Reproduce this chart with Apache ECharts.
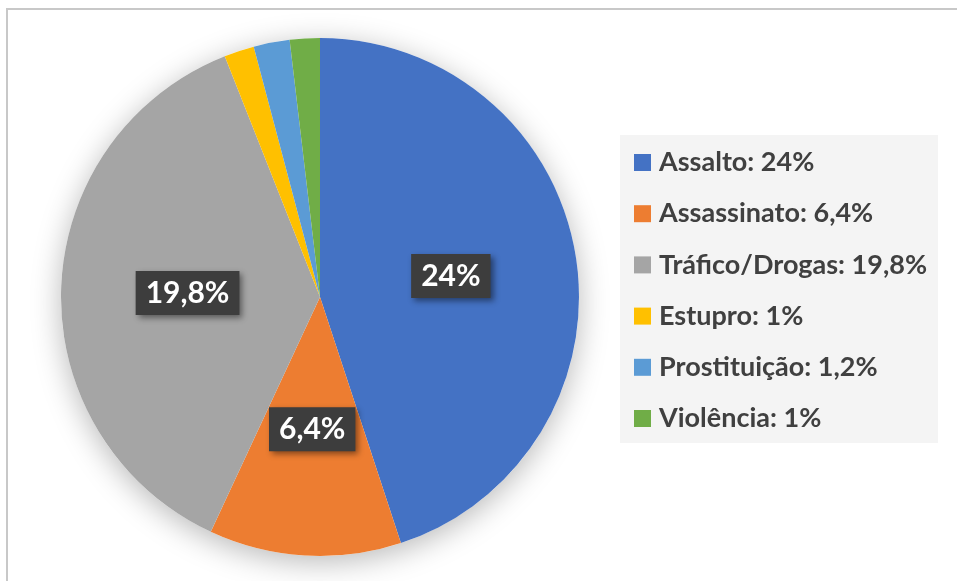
<!DOCTYPE html>
<html>
<head>
<meta charset="utf-8">
<script src="https://cdn.jsdelivr.net/npm/echarts@6/dist/echarts.min.js"></script>
<style>
    html, body { margin: 0; padding: 0; background: #fff; }
    #main { width: 957px; height: 581px; }
</style>
</head>
<body>
<div id="main"></div>
<script>
// dados do gráfico
var categories = ['Assalto', 'Assassinato', 'Tráfico/Drogas', 'Estupro', 'Prostituição', 'Violência'];
var values = [24, 6.4, 19.8, 1, 1.2, 1];
var colors = ['#4472C4', '#ED7D31', '#A5A5A5', '#FFC000', '#5B9BD5', '#70AD47'];
var showLabel = [true, true, true, false, false, false];

function fmt(v) {
    return String(v).replace('.', ',') + '%';
}

var pieData = categories.map(function (name, i) {
    return {
        name: name,
        value: values[i],
        itemStyle: { color: colors[i] },
        label: { show: showLabel[i] }
    };
});

var myChart = echarts.init(document.getElementById('main'));
var option = {
    animation: false,
    graphic: [
        {
            type: 'rect',
            shape: { x: 7, y: 9, width: 1000, height: 1000 },
            style: { fill: 'none', stroke: '#c8c8c8', lineWidth: 2 },
            z: 0
        },
        {
            type: 'rect',
            shape: { x: 620, y: 135, width: 318, height: 308 },
            style: { fill: '#f4f4f4' },
            z: 0
        }
    ],
    legend: {
        orient: 'vertical',
        left: 629,
        top: 144,
        itemWidth: 17,
        itemHeight: 17,
        itemGap: 24.2,
        icon: 'rect',
        data: categories,
        formatter: function (name) {
            return name + ': ' + fmt(values[categories.indexOf(name)]);
        },
        textStyle: {
            color: '#404040',
            fontFamily: 'Lato',
            fontWeight: 'bold',
            fontSize: 27,
            lineHeight: 26,
            padding: [0, 0, 0, 3]
        }
    },
    series: [
        {
            // sombra atrás da pizza
            type: 'pie',
            silent: true,
            center: [320, 297],
            radius: [0, 259],
            data: [{ value: 1, name: 'bg' }],
            label: { show: false },
            itemStyle: {
                color: '#ffffff',
                shadowBlur: 30,
                shadowColor: 'rgba(0, 0, 0, 0.28)',
                shadowOffsetY: 6
            },
            z: 1
        },
        {
            type: 'pie',
            center: [320, 297],
            radius: [0, 259],
            startAngle: 90,
            clockwise: true,
            data: pieData,
            itemStyle: { borderWidth: 0 },
            label: {
                position: 'inside',
                formatter: function (p) {
                    return fmt(p.value);
                },
                color: '#ffffff',
                fontFamily: 'Lato',
                fontWeight: 'bold',
                fontSize: 30,
                backgroundColor: '#3d3d3d',
                padding: [8, 10, 6, 10],
                shadowColor: 'rgba(0, 0, 0, 0.45)',
                shadowBlur: 6,
                shadowOffsetX: 3,
                shadowOffsetY: 3
            },
            labelLine: { show: false },
            z: 2
        }
    ]
};
myChart.setOption(option);
</script>
</body>
</html>
